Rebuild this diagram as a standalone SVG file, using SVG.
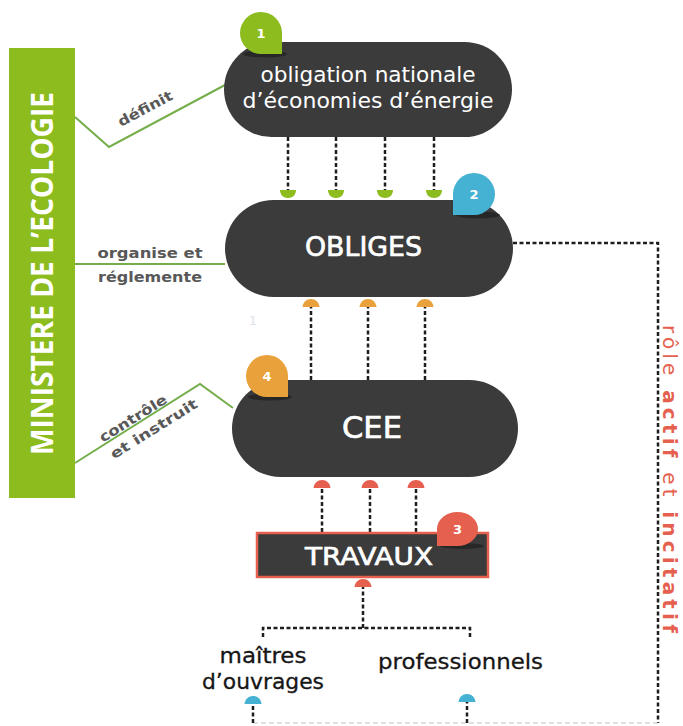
<svg xmlns="http://www.w3.org/2000/svg" width="683" height="726" viewBox="0 0 683 726">
<defs>
<style>
.node{fill:#3b3b3b}
.nt{fill:#fff;font-family:"DejaVu Sans",sans-serif;text-anchor:middle}
.ntb{stroke:#fff;stroke-width:0.7}
.lbl{fill:#585858;font-family:"DejaVu Sans",sans-serif;font-weight:bold;font-size:14px;text-anchor:middle}
.gl{fill:none;stroke:#74ad4a;stroke-width:2}
.dash{fill:none;stroke:#1e1e1e;stroke-width:2.5;stroke-dasharray:4 2.5}
.num{fill:#fff;font-family:"DejaVu Sans",sans-serif;font-weight:bold;font-size:13px;text-anchor:middle}
.shadow{fill:#1a1a1a;opacity:.6}
.bt{fill:#161616;font-family:"DejaVu Sans",sans-serif;font-size:21px;text-anchor:middle;stroke:#161616;stroke-width:0.3}
</style>
<path id="ahDown" d="M-8,0 H8 C8,5 4.5,8 0,8 C-4.5,8 -8,5 -8,0 Z"/>
<path id="ahUp" d="M-8.5,0 H8.5 C8,-5 4.5,-8 0,-8 C-4.5,-8 -8,-5 -8.5,0 Z"/>
</defs>
<rect width="683" height="726" fill="#fff"/>

<g id="ministere">
<rect x="9" y="48" width="66" height="450" fill="#8cbc1e"/>
<text transform="translate(53,273.5) rotate(-90)" text-anchor="middle" font-family="'Open Sans',sans-serif" font-weight="bold" font-size="31" fill="#fff" textLength="363" lengthAdjust="spacingAndGlyphs">MINISTERE DE L’ECOLOGIE</text>
</g>

<g id="connectors">
<polyline class="gl" points="75,117 109,147 225,85"/>
<line class="gl" x1="75" y1="264" x2="225" y2="264"/>
<polyline class="gl" points="75,463 200,384 233,408"/>
<path class="dash" d="M288,137V190M336,137V190M385,137V190M434,137V190"/>
<g fill="#8cbc1e">
<use href="#ahDown" x="288" y="190"/><use href="#ahDown" x="336" y="190"/><use href="#ahDown" x="385" y="190"/><use href="#ahDown" x="434" y="190"/>
</g>
<path class="dash" d="M311,380V307M368,380V307M425,380V307"/>
<g fill="#e9a23b">
<use href="#ahUp" x="311" y="307"/><use href="#ahUp" x="368" y="307"/><use href="#ahUp" x="425" y="307"/>
</g>
<path class="dash" d="M322,532V488M370,532V488M416,532V488M363,628V587M263,637V628H470V637"/>
<g fill="#e5604e">
<use href="#ahUp" x="322" y="488"/><use href="#ahUp" x="370" y="488"/><use href="#ahUp" x="416" y="488"/><use href="#ahUp" x="363" y="587"/>
</g>
<path class="dash" d="M513,243H658V723"/>
<path d="M253,723H658" fill="none" stroke="#c4c4c4" stroke-width="1.2" stroke-dasharray="5 3"/>
<path class="dash" d="M253,723V704M467,723V702"/>
<g fill="#45b1d3">
<use href="#ahUp" x="253" y="704"/><use href="#ahUp" x="467" y="702"/>
</g>
<text class="lbl" transform="translate(153,123.5) rotate(-28)" x="0" y="-12" font-size="15" textLength="60" lengthAdjust="spacingAndGlyphs">définit</text>
<text class="lbl" x="150" y="258" textLength="105" lengthAdjust="spacingAndGlyphs">organise et</text>
<text class="lbl" x="150" y="282" textLength="104" lengthAdjust="spacingAndGlyphs">réglemente</text>
<g transform="translate(140,422) rotate(-32)">
<text class="lbl" x="-4" y="-2" font-size="15" textLength="77" lengthAdjust="spacingAndGlyphs">contrôle</text>
<text class="lbl" x="8" y="18" font-size="15" textLength="100" lengthAdjust="spacingAndGlyphs">et instruit</text>
</g>
</g>

<g id="node-obligation">
<rect class="node" x="224" y="42" width="288" height="95" rx="47.5"/>
<ellipse class="shadow" cx="265" cy="54" rx="22" ry="3.5"/>
<path d="M240,33A21,21 0 0 1 261,12A21,21 0 0 1 282,33V54H261A21,21 0 0 1 240,33Z" fill="#8cbc1e"/>
<text class="num" x="261" y="38">1</text>
<text class="nt" x="368" y="82" font-size="22" textLength="215" lengthAdjust="spacingAndGlyphs">obligation nationale</text>
<text class="nt" x="368" y="108" font-size="22" textLength="251" lengthAdjust="spacingAndGlyphs">d’économies d’énergie</text>
</g>

<g id="node-obliges">
<rect class="node" x="225" y="200" width="288" height="97" rx="48.5"/>
<ellipse class="shadow" cx="478" cy="215" rx="22" ry="3.5"/>
<path d="M453,194A21,21 0 0 1 474,173A21,21 0 0 1 495,194A21,21 0 0 1 474,215H453Z" fill="#45b1d3"/>
<text class="num" x="474" y="199">2</text>
<text class="nt ntb" x="363.5" y="256" font-size="27" textLength="117" lengthAdjust="spacingAndGlyphs">OBLIGES</text>
</g>

<text x="253" y="325" font-family="'DejaVu Sans',sans-serif" font-size="13" fill="#dde2ea" text-anchor="middle">1</text>

<g id="node-cee">
<rect class="node" x="232" y="380" width="286" height="97" rx="48.5"/>
<ellipse class="shadow" cx="270" cy="397" rx="22" ry="3.5"/>
<path d="M246,376A21,21 0 0 1 267,355A21,21 0 0 1 288,376V397H267A21,21 0 0 1 246,376Z" fill="#e9a23b"/>
<text class="num" x="267" y="381">4</text>
<text class="nt ntb" x="372" y="438" font-size="31" textLength="60" lengthAdjust="spacingAndGlyphs">CEE</text>
</g>

<g id="node-travaux">
<rect x="257" y="533" width="231" height="44" fill="#3b3b3b" stroke="#e5604e" stroke-width="2.5"/>
<ellipse class="shadow" cx="462" cy="546" rx="22" ry="3"/>
<path d="M437,529A20.5,17 0 0 1 457.5,512A20.5,17 0 0 1 478,529A20.5,17 0 0 1 457.5,546H437Z" fill="#e5604e"/>
<text class="num" x="457.5" y="534">3</text>
<text class="nt ntb" x="369" y="565" font-size="25" textLength="128" lengthAdjust="spacingAndGlyphs">TRAVAUX</text>
</g>

<g id="node-maitres">
<text class="bt" x="263" y="663" textLength="87" lengthAdjust="spacingAndGlyphs">maîtres</text>
<text class="bt" x="263" y="689" textLength="122" lengthAdjust="spacingAndGlyphs">d’ouvrages</text>
</g>

<g id="node-professionnels">
<text class="bt" x="460.5" y="669" textLength="165" lengthAdjust="spacingAndGlyphs">professionnels</text>
</g>

<g id="label-role">
<text transform="translate(663,481) rotate(90)" text-anchor="middle" font-family="'DejaVu Sans',sans-serif" font-size="20" letter-spacing="4.2" fill="#e5604e">rôle <tspan font-weight="bold">actif</tspan> et <tspan font-weight="bold">incitatif</tspan></text>
</g>
</svg>
